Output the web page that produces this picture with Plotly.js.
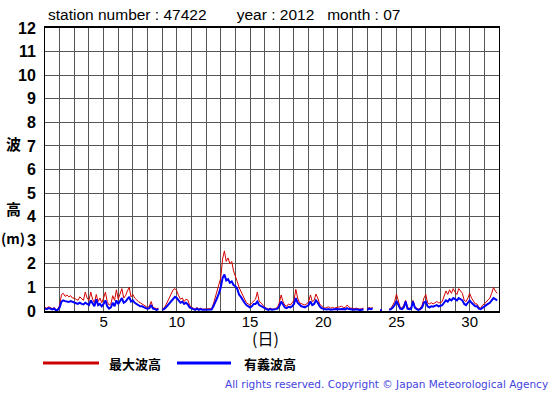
<!DOCTYPE html>
<html>
<head>
<meta charset="utf-8">
<script src="https://cdn.plot.ly/plotly-3.0.1.min.js"></script>
<style>html,body{margin:0;padding:0;background:#fff;}#chart{width:555px;height:395px;}</style>
</head>
<body>
<div id="chart"></div>
<script>
// 3-hourly readings, 8 per day, day 1 .. day 31
var dayStart = 1;
var perDay = 8;
var maxWave = [
  0.15,0.12,0.18,0.15,0.10,0.15,0.05,0.08,
  0.25,0.70,0.75,0.62,0.68,0.60,0.65,0.55,
  0.55,0.50,0.45,0.60,0.50,0.45,0.80,0.55,
  0.45,0.80,0.50,0.35,0.70,0.40,0.55,0.35,
  0.55,0.80,0.40,0.25,0.30,0.65,0.45,0.90,
  0.50,0.75,0.95,0.55,0.65,0.85,1.00,0.60,
  0.70,0.55,0.45,0.40,0.35,0.30,0.25,0.20,
  0.15,0.20,0.40,0.15,0.12,0.10,0.12,null,
  0.08,0.12,0.25,0.40,0.55,0.70,0.90,0.95,
  0.85,0.65,0.50,0.55,0.40,0.50,0.47,0.25,
  0.15,0.12,0.08,0.15,0.08,0.12,0.08,0.08,
  0.08,0.08,0.10,0.10,0.30,0.55,0.90,1.10,
  1.40,2.20,2.55,2.10,2.25,2.00,2.10,1.70,
  1.50,1.25,1.00,0.85,0.65,0.50,0.35,0.30,
  0.25,0.35,0.45,0.50,0.80,0.40,0.35,0.25,
  0.15,0.12,0.08,0.12,0.08,0.08,0.12,0.15,
  0.35,0.68,0.40,0.25,0.20,0.30,0.25,0.35,
  0.45,0.92,0.55,0.35,0.30,0.28,0.25,0.30,
  0.40,0.68,0.40,0.45,0.72,0.55,0.30,0.20,
  0.15,0.12,0.15,0.18,0.12,0.15,0.12,0.15,
  0.15,0.18,0.20,0.15,0.15,0.25,0.18,0.12,
  0.12,0.10,0.12,0.10,0.08,0.10,0.12,null,
  0.08,0.15,0.12,0.15,null,null,null,0.05,
  0.05,null,null,null,0.08,0.12,0.25,0.40,
  0.72,0.40,0.15,0.12,0.25,0.45,0.15,0.12,
  0.15,0.45,0.20,0.12,0.08,0.12,0.25,0.55,
  0.70,0.35,0.30,0.35,0.30,0.35,0.40,0.35,
  0.35,0.40,0.60,0.85,0.70,0.90,0.75,0.95,
  0.80,0.70,0.95,0.85,0.75,0.45,0.40,0.55,
  0.75,0.55,0.40,0.30,0.30,0.15,0.12,0.25,
  0.30,0.40,0.45,0.55,0.75,1.00,0.85,0.75
];
var sigWave = [
  0.10,0.08,0.12,0.10,0.07,0.10,0.03,0.05,
  0.15,0.40,0.45,0.42,0.40,0.38,0.42,0.40,
  0.35,0.33,0.30,0.35,0.30,0.28,0.35,0.30,
  0.25,0.45,0.30,0.20,0.50,0.25,0.30,0.20,
  0.30,0.45,0.20,0.10,0.15,0.35,0.20,0.45,
  0.30,0.45,0.55,0.35,0.40,0.50,0.60,0.40,
  0.45,0.35,0.30,0.25,0.20,0.20,0.15,0.12,
  0.10,0.12,0.25,0.10,0.08,0.05,0.08,null,
  0.05,0.08,0.15,0.25,0.35,0.45,0.55,0.60,
  0.55,0.45,0.35,0.40,0.30,0.35,0.28,0.15,
  0.10,0.08,0.05,0.10,0.05,0.08,0.05,0.05,
  0.05,0.05,0.08,0.06,0.20,0.35,0.55,0.75,
  1.00,1.40,1.55,1.30,1.35,1.20,1.25,1.10,
  1.05,0.95,0.70,0.60,0.45,0.35,0.25,0.20,
  0.15,0.20,0.30,0.30,0.40,0.25,0.20,0.15,
  0.10,0.08,0.05,0.08,0.05,0.05,0.08,0.10,
  0.20,0.40,0.25,0.15,0.12,0.18,0.15,0.20,
  0.30,0.55,0.35,0.25,0.20,0.18,0.15,0.20,
  0.25,0.40,0.25,0.30,0.45,0.35,0.20,0.12,
  0.08,0.07,0.06,0.08,0.05,0.07,0.06,0.08,
  0.07,0.08,0.10,0.08,0.07,0.12,0.08,0.06,
  0.06,0.05,0.07,0.05,0.04,0.05,0.06,null,
  0.05,0.10,0.08,0.10,null,null,null,0.03,
  0.03,null,null,null,0.05,0.08,0.15,0.25,
  0.43,0.25,0.10,0.08,0.15,0.40,0.10,0.08,
  0.10,0.40,0.15,0.08,0.05,0.08,0.15,0.35,
  0.40,0.20,0.15,0.20,0.18,0.22,0.25,0.20,
  0.22,0.25,0.35,0.45,0.40,0.50,0.45,0.55,
  0.50,0.45,0.55,0.50,0.45,0.30,0.25,0.35,
  0.45,0.35,0.25,0.20,0.20,0.10,0.08,0.15,
  0.20,0.25,0.30,0.35,0.45,0.55,0.50,0.45
];
var xTickVals = [1,2,3,4,5,6,7,8,9,10,11,12,13,14,15,16,17,18,19,20,21,22,23,24,25,26,27,28,29,30,31,32];
var xTickText = ['','','','','5','','','','','10','','','','','15','','','','','20','','','','','25','','','','','30','',''];
var yTickVals = [0,1,2,3,4,5,6,7,8,9,10,11,12];
var seriesNames = ['最大波高','有義波高'];
var titleText = 'station number : 47422&nbsp;&nbsp;&nbsp;&nbsp;&nbsp;&nbsp;&nbsp;year : 2012&nbsp;&nbsp;&nbsp;month : 07';

var times = maxWave.map(function(_, i){ return dayStart + i / perDay; });

var traces = [
  {x: times, y: maxWave, type: 'scatter', mode: 'lines', name: seriesNames[0],
   line: {color: '#d40000', width: 1}, connectgaps: false, showlegend: false, hoverinfo: 'skip'},
  {x: times, y: sigWave, type: 'scatter', mode: 'lines', name: seriesNames[1],
   line: {color: '#0000ff', width: 2}, connectgaps: false, showlegend: false, hoverinfo: 'skip'}
];

var font = 'Liberation Sans, Arial, sans-serif';
var cjk = 'Noto Sans CJK JP, sans-serif';

var layout = {
  width: 555, height: 395,
  margin: {l: 45, r: 56, t: 28, b: 84, pad: 0},
  paper_bgcolor: '#ffffff', plot_bgcolor: '#ffffff',
  showlegend: false,
  xaxis: {
    range: [1, 32], tickmode: 'array', tickvals: xTickVals, ticktext: xTickText,
    showgrid: true, gridcolor: '#555555', gridwidth: 1,
    zeroline: false, showline: true, linecolor: '#000000', linewidth: 2, mirror: true,
    ticks: '', ticklabelstandoff: -4,
    tickfont: {family: font, size: 15, color: '#000'}, fixedrange: true
  },
  yaxis: {
    range: [0, 12], tickmode: 'array', tickvals: yTickVals,
    showgrid: true, gridcolor: '#555555', gridwidth: 1,
    zeroline: false, showline: true, linecolor: '#000000', linewidth: 1, mirror: true,
    ticks: '', ticklabelstandoff: 5,
    tickfont: {family: font, size: 16, color: '#000', weight: 'bold'}, fixedrange: true
  },
  annotations: [
    {text: titleText, xref: 'paper', yref: 'paper', x: 0, y: 1, xanchor: 'left', yanchor: 'middle',
     xshift: 1, yshift: 14, showarrow: false, font: {family: font, size: 15.5, color: '#000'}},
    {text: '波', xref: 'paper', yref: 'paper', x: 0, y: 0, xshift: -32, yshift: 168, xanchor: 'center', yanchor: 'middle',
     showarrow: false, font: {family: cjk, size: 15, color: '#000', weight: 'bold'}},
    {text: '高', xref: 'paper', yref: 'paper', x: 0, y: 0, xshift: -32, yshift: 103, xanchor: 'center', yanchor: 'middle',
     showarrow: false, font: {family: cjk, size: 15, color: '#000', weight: 'bold'}},
    {text: '(m)', xref: 'paper', yref: 'paper', x: 0, y: 0, xshift: -32, yshift: 73, xanchor: 'center', yanchor: 'middle',
     showarrow: false, font: {family: cjk, size: 14, color: '#000', weight: 'bold'}},
    {text: '(日)', xref: 'paper', yref: 'paper', x: 0.47, y: 0, xanchor: 'center', yanchor: 'middle',
     xshift: 7, yshift: -27, showarrow: false, font: {family: cjk, size: 16, color: '#000'}},
    {text: seriesNames[0], xref: 'paper', yref: 'paper', x: 0, y: 0, xshift: 62, yshift: -52, xanchor: 'left', yanchor: 'middle',
     showarrow: false, font: {family: cjk, size: 13, color: '#000', weight: 'bold'}},
    {text: seriesNames[1], xref: 'paper', yref: 'paper', x: 0, y: 0, xshift: 197, yshift: -52, xanchor: 'left', yanchor: 'middle',
     showarrow: false, font: {family: cjk, size: 13, color: '#000', weight: 'bold'}},
    {text: 'All rights reserved. Copyright © Japan Meteorological Agency', xref: 'paper', yref: 'paper',
     x: 1, y: 0, xshift: 51, yshift: -73, xanchor: 'right', yanchor: 'middle', showarrow: false,
     font: {family: 'DejaVu Sans, sans-serif', size: 10.5, color: '#4444e0'}}
  ],
  shapes: [
    {type: 'line', xref: 'paper', yref: 'paper', xsizemode: 'pixel', ysizemode: 'pixel', xanchor: 0, yanchor: 0,
     x0: -2, x1: 54, y0: -52, y1: -52, line: {color: '#cc0000', width: 3}},
    {type: 'line', xref: 'paper', yref: 'paper', xsizemode: 'pixel', ysizemode: 'pixel', xanchor: 0, yanchor: 0,
     x0: 132, x1: 186, y0: -52, y1: -52, line: {color: '#0000ff', width: 3}}
  ]
};

Plotly.newPlot('chart', traces, layout, {staticPlot: true, displayModeBar: false});
</script>
</body>
</html>
